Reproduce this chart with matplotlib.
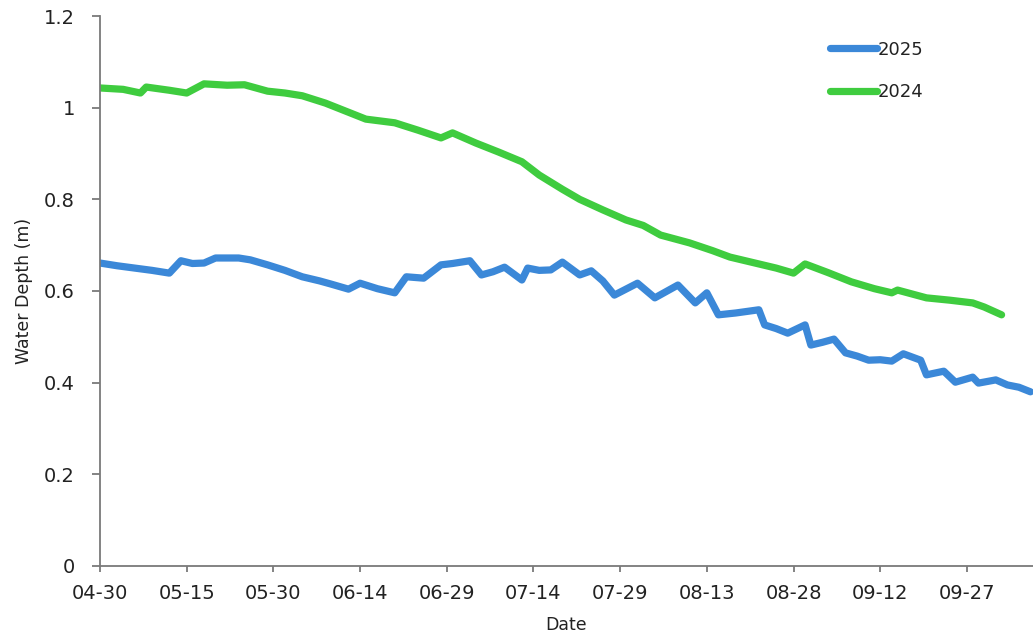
import numpy as np
import matplotlib
matplotlib.use("Agg")
import matplotlib.pyplot as plt
from matplotlib import font_manager

# días desde 04-30 y profundidad (m)
dias_2025 = [0, 3, 6, 9, 12, 14, 16, 18, 20, 24, 26, 29, 32, 35, 38, 40, 43, 45,
             48, 51, 53, 56, 59, 61, 64, 66, 68, 70, 73, 74, 76, 78, 80, 83, 85,
             87, 89, 93, 96, 100, 103, 105, 107, 110, 114, 115, 117, 119, 122, 123,
             125, 127, 129, 131, 133, 135, 137, 139, 142, 143, 146, 148, 151, 152,
             155, 157, 159, 161]
prof_2025 = [0.661, 0.655, 0.650, 0.645, 0.639, 0.666, 0.660, 0.661, 0.672, 0.672,
             0.668, 0.657, 0.645, 0.631, 0.622, 0.615, 0.604, 0.617, 0.605, 0.596,
             0.631, 0.628, 0.657, 0.660, 0.666, 0.635, 0.642, 0.652, 0.624, 0.650,
             0.645, 0.646, 0.663, 0.635, 0.644, 0.622, 0.591, 0.617, 0.585, 0.613,
             0.574, 0.596, 0.548, 0.552, 0.559, 0.526, 0.518, 0.508, 0.526, 0.482,
             0.488, 0.495, 0.465, 0.458, 0.449, 0.450, 0.447, 0.463, 0.449, 0.417,
             0.425, 0.401, 0.412, 0.399, 0.406, 0.395, 0.390, 0.380]

dias_2024 = [0, 4, 7, 8, 12, 15, 18, 22, 25, 29, 32, 35, 39, 43, 46, 51, 55, 59,
             61, 65, 69, 73, 76, 80, 83, 87, 91, 94, 97, 102, 106, 109, 113, 117,
             120, 122, 126, 130, 134, 137, 138, 143, 147, 151, 153, 156]
prof_2024 = [1.043, 1.040, 1.032, 1.045, 1.038, 1.032, 1.052, 1.049, 1.050, 1.036,
             1.032, 1.026, 1.010, 0.990, 0.975, 0.967, 0.951, 0.934, 0.945, 0.923,
             0.903, 0.882, 0.853, 0.822, 0.800, 0.777, 0.755, 0.743, 0.722, 0.705,
             0.688, 0.674, 0.662, 0.650, 0.639, 0.659, 0.640, 0.620, 0.605, 0.596,
             0.602, 0.585, 0.580, 0.574, 0.565, 0.548]

etiquetas_x = ["04-30", "05-15", "05-30", "06-14", "06-29", "07-14", "07-29",
               "08-13", "08-28", "09-12", "09-27"]

color_gris = "#7a7a7a"
color_texto = "#222222"

nombres = {f.name for f in font_manager.fontManager.ttflist}
if "Liberation Sans Narrow" in nombres:
    fuente_y, tam_y = "Liberation Sans Narrow", 14
else:
    fuente_y, tam_y = "DejaVu Sans", 12.5

fig = plt.figure(figsize=(10.33, 6.38), dpi=100)
ax = fig.add_axes([0.0968, 0.1129, 0.903, 0.862])

ax.plot(dias_2025, prof_2025, color="#3b88d8", lw=5.2, label="2025",
        solid_joinstyle="round", solid_capstyle="round")
ax.plot(dias_2024, prof_2024, color="#3fcc3f", lw=5.2, label="2024",
        solid_joinstyle="round", solid_capstyle="round")

ax.set_xlim(0, 161.4)
ax.set_ylim(0, 1.2)
ax.set_xticks(np.arange(len(etiquetas_x)) * 15)
ax.set_xticklabels(etiquetas_x)
ax.set_yticks([0, 0.2, 0.4, 0.6, 0.8, 1.0, 1.2])
ax.set_yticklabels(["0", "0.2", "0.4", "0.6", "0.8", "1", "1.2"])

for s in ["top", "right"]:
    ax.spines[s].set_visible(False)
for s in ["left", "bottom"]:
    ax.spines[s].set_color(color_gris)
    ax.spines[s].set_linewidth(1.3)
ax.tick_params(axis="x", direction="out", length=4, width=1.3,
               color=color_gris, labelsize=14, labelcolor=color_texto, pad=9)
ax.tick_params(axis="y", direction="out", length=6, width=1.3,
               color=color_gris, labelsize=14, labelcolor=color_texto, pad=12)

ax.set_xlabel("Date", fontsize=12.5, color=color_texto, labelpad=9)
ax.set_ylabel("Water Depth (m)", fontsize=tam_y, color=color_texto,
              family=fuente_y, labelpad=8)

leg = ax.legend(loc="upper right", bbox_to_anchor=(0.90, 0.985), frameon=False,
                fontsize=13, handlelength=2.6, handletextpad=0.05,
                labelspacing=1.35)
for t in leg.get_texts():
    t.set_color(color_texto)

fig.savefig("out.png", dpi=100)
